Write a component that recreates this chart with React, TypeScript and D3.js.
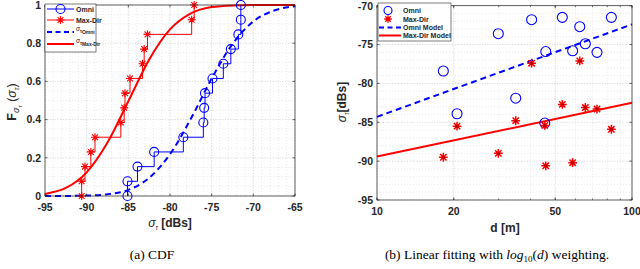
import * as d3 from "d3"

// axis ticks
const cdfXTicks = [-95, -90, -85, -80, -75, -70, -65]
const cdfYTicks = [0, 0.2, 0.4, 0.6, 0.8, 1]
const distTicks = [10, 20, 50, 100]
const delayTicks = [-95, -90, -85, -80, -75, -70]

// measured RMS delay spread per location
const distances = [18.2, 20.6, 29.9, 35.0, 40.4, 45.9, 45.5, 53.3, 58.5, 62.4, 65.6, 72.9, 83.0]
const omniDelay = [-78.4, -83.9, -73.6, -81.9, -71.8, -75.9, -85.1, -71.5, -75.8, -72.7, -74.9, -76.0, -71.5]
const maxDirDelay = [-89.5, -85.5, -89.0, -84.8, -77.4, -90.6, -85.4, -82.7, -90.2, -77.1, -83.1, -83.3, -85.9]

// fitted CDF curves
const fitGrid = [-95, -92.5, -90, -87.5, -85, -82.5, -80, -77.5, -75, -72.5, -70, -67.5, -65]
const omniFitCdf = [0.0, 0.0003, 0.002, 0.009, 0.032, 0.095, 0.219, 0.404, 0.615, 0.796, 0.914, 0.971, 0.993]
const maxDirFitCdf = [0.011, 0.042, 0.124, 0.28, 0.496, 0.714, 0.872, 0.956, 0.989, 0.998, 1.0, 1.0, 1.0]

// linear models in log10(d)
const modelDist = [10, 100]
const omniModel = [-84.3, -72.4]
const maxDirModel = [-89.4, -82.5]

const BLUE = "#0000ff"
const RED = "#ff0000"
const AX = "#262626"
const FONT = "'Liberation Sans', Arial, sans-serif"

const Star = ({ x, y, s = 4, w = 1.1 }: any) => {
  const a = s * 0.72
  return (
    <path
      transform={`translate(${x},${y})`}
      d={`M${-s},0H${s}M0,${-s}V${s}M${-a},${-a}L${a},${a}M${-a},${a}L${a},${-a}`}
      stroke={RED}
      strokeWidth={w}
      fill="none"
    />
  )
}

const Ring = ({ x, y, r = 4.5 }: any) => (
  <circle cx={x} cy={y} r={r} fill="none" stroke={BLUE} strokeWidth={1.1} />
)

function ecdf(values: number[]) {
  const s = [...values].sort(d3.ascending)
  const n = s.length
  return [[s[0], 0], ...s.map((v, i) => [v, (i + 1) / n])] as [number, number][]
}

const CdfChart = () => {
  const x = d3.scaleLinear().domain([-95, -65]).range([45, 295])
  const y = d3.scaleLinear().domain([0, 1]).range([196, 5])
  const stairs = d3.line().x((d: any) => x(d[0])).y((d: any) => y(d[1])).curve(d3.curveStepAfter)
  const smooth = d3.line().x((d: any) => x(d[0])).y((d: any) => y(d[1])).curve(d3.curveMonotoneX)
  const omniPts = ecdf(omniDelay)
  const maxPts = ecdf(maxDirDelay)
  const [x0, x1] = x.range()
  const [y1, y0] = y.range()
  return (
    <g>
      {d3.range(-95, -64.5, 1).map((v) => (
        <line key={"mx" + v} x1={x(v)} x2={x(v)} y1={y0} y2={y1} stroke="#dcdcdc" strokeWidth={0.6} strokeDasharray="1,2" />
      ))}
      {d3.range(0, 1.001, 0.05).map((v) => (
        <line key={"my" + v} x1={x0} x2={x1} y1={y(v)} y2={y(v)} stroke="#dcdcdc" strokeWidth={0.6} strokeDasharray="1,2" />
      ))}
      {cdfXTicks.map((v) => (
        <line key={"gx" + v} x1={x(v)} x2={x(v)} y1={y0} y2={y1} stroke="#cccccc" strokeWidth={0.6} strokeDasharray="1,1.5" />
      ))}
      {cdfYTicks.map((v) => (
        <line key={"gy" + v} x1={x0} x2={x1} y1={y(v)} y2={y(v)} stroke="#cccccc" strokeWidth={0.6} strokeDasharray="1,1.5" />
      ))}

      <path d={smooth(fitGrid.map((v, i) => [v, maxDirFitCdf[i]]) as any) || ""} fill="none" stroke={RED} strokeWidth={2} />
      <path d={smooth(fitGrid.map((v, i) => [v, omniFitCdf[i]]) as any) || ""} fill="none" stroke={BLUE} strokeWidth={2} strokeDasharray="6,4" />
      <path d={stairs(omniPts as any) || ""} fill="none" stroke={BLUE} strokeWidth={1} />
      <path d={stairs(maxPts as any) || ""} fill="none" stroke={RED} strokeWidth={1} />
      {omniPts.map((d, i) => <Ring key={"o" + i} x={x(d[0])} y={y(d[1])} />)}
      {maxPts.map((d, i) => <Star key={"s" + i} x={x(d[0])} y={y(d[1])} />)}

      <rect x={x0} y={y0} width={x1 - x0} height={y1 - y0} fill="none" stroke={AX} strokeWidth={0.7} />
      {cdfXTicks.map((v) => (
        <g key={"tx" + v}>
          <line x1={x(v)} x2={x(v)} y1={y1} y2={y1 - 2.5} stroke={AX} strokeWidth={0.7} />
          <line x1={x(v)} x2={x(v)} y1={y0} y2={y0 + 2.5} stroke={AX} strokeWidth={0.7} />
          <text x={x(v)} y={y1 + 15} textAnchor="middle" fontSize={10.5} fontWeight="bold" fill={AX} fontFamily={FONT}>{v}</text>
        </g>
      ))}
      {cdfYTicks.map((v) => (
        <g key={"ty" + v}>
          <line x1={x0} x2={x0 + 2.5} y1={y(v)} y2={y(v)} stroke={AX} strokeWidth={0.7} />
          <line x1={x1} x2={x1 - 2.5} y1={y(v)} y2={y(v)} stroke={AX} strokeWidth={0.7} />
          <text x={x0 - 4} y={y(v) + 3.8} textAnchor="end" fontSize={10.5} fontWeight="bold" fill={AX} fontFamily={FONT}>{v}</text>
        </g>
      ))}

      <text x={170} y={227} textAnchor="middle" fontSize={12} fontWeight="bold" fill={AX} fontFamily={FONT}>
        <tspan fontStyle="italic" fontWeight="normal">σ</tspan>
        <tspan fontSize={6.5} dy={3} fontStyle="italic" fontWeight="normal">τ</tspan>
        <tspan dy={-3}> [dBs]</tspan>
      </text>
      <text transform="translate(16,102) rotate(-90)" textAnchor="middle" fontSize={12.5} fontWeight="bold" fill={AX} fontFamily={FONT}>
        <tspan>F</tspan>
        <tspan fontSize={9} dy={3} fontStyle="italic" fontWeight="normal">σ</tspan>
        <tspan fontSize={6} dy={2.5} fontStyle="italic" fontWeight="normal">τ</tspan>
        <tspan dy={-5.5} fontWeight="normal"> (</tspan>
        <tspan fontStyle="italic" fontWeight="normal">σ</tspan>
        <tspan fontSize={7} dy={3} fontStyle="italic" fontWeight="normal">τ</tspan>
        <tspan dy={-3} fontWeight="normal">)</tspan>
      </text>

      <g fontFamily={FONT} fontWeight="bold" fontSize={7} fill={AX}>
        <rect x={45} y={4} width={51} height={48} fill="#fff" stroke={AX} strokeWidth={0.6} />
        <line x1={47} x2={74} y1={9} y2={9} stroke={BLUE} strokeWidth={1} />
        <Ring x={60.5} y={9} />
        <text x={76} y={11.5}>Omni</text>
        <line x1={47} x2={74} y1={20} y2={20} stroke={RED} strokeWidth={1} />
        <Star x={60.5} y={20} />
        <text x={76} y={22.5}>Max-Dir</text>
        <line x1={47} x2={74} y1={32} y2={32} stroke={BLUE} strokeWidth={2} strokeDasharray="5,3.5" />
        <text x={76} y={31} fontSize={6.5}>
          <tspan fontStyle="italic" fontWeight="normal">σ</tspan>
          <tspan fontSize={4.5} dy={1.5}>τ</tspan>
          <tspan fontSize={5} dy={1.5}>Omni</tspan>
        </text>
        <line x1={47} x2={74} y1={44} y2={44} stroke={RED} strokeWidth={2} />
        <text x={76} y={43} fontSize={6.5}>
          <tspan fontStyle="italic" fontWeight="normal">σ</tspan>
          <tspan fontSize={4.5} dy={1.5}>τ</tspan>
          <tspan fontSize={5} dy={1.5}>Max-Dir</tspan>
        </text>
      </g>
    </g>
  )
}

const FitChart = () => {
  const x = d3.scaleLog().domain([10, 100]).range([377, 632])
  const y = d3.scaleLinear().domain([-95, -70]).range([200, 5.7])
  const line = d3.line().x((d: any) => x(d[0])).y((d: any) => y(d[1]))
  const [x0, x1] = x.range()
  const [y1, y0] = y.range()
  const minorX = d3.range(10, 101, 10)
  return (
    <g>
      {minorX.map((v) => (
        <line key={"mx" + v} x1={x(v)} x2={x(v)} y1={y0} y2={y1} stroke="#dcdcdc" strokeWidth={0.6} strokeDasharray="1,2" />
      ))}
      {d3.range(-95, -69.5, 1).map((v) => (
        <line key={"my" + v} x1={x0} x2={x1} y1={y(v)} y2={y(v)} stroke="#dcdcdc" strokeWidth={0.6} strokeDasharray="1,2" />
      ))}
      {distTicks.map((v) => (
        <line key={"gx" + v} x1={x(v)} x2={x(v)} y1={y0} y2={y1} stroke="#cccccc" strokeWidth={0.6} strokeDasharray="1,1.5" />
      ))}
      {delayTicks.map((v) => (
        <line key={"gy" + v} x1={x0} x2={x1} y1={y(v)} y2={y(v)} stroke="#cccccc" strokeWidth={0.6} strokeDasharray="1,1.5" />
      ))}

      <path d={line(modelDist.map((d, i) => [d, omniModel[i]]) as any) || ""} fill="none" stroke={BLUE} strokeWidth={2} strokeDasharray="6,4" />
      <path d={line(modelDist.map((d, i) => [d, maxDirModel[i]]) as any) || ""} fill="none" stroke={RED} strokeWidth={2} />
      {distances.map((d, i) => <Ring key={"o" + i} x={x(d)} y={y(omniDelay[i])} r={5} />)}
      {distances.map((d, i) => (
        <g key={"s" + i}>
          <Star x={x(d)} y={y(maxDirDelay[i])} s={4.4} w={1.5} />
          <circle cx={x(d)} cy={y(maxDirDelay[i])} r={1.5} fill="#b00000" />
        </g>
      ))}

      <rect x={x0} y={y0} width={x1 - x0} height={y1 - y0} fill="none" stroke={AX} strokeWidth={0.7} />
      {minorX.map((v) => (
        <g key={"mt" + v}>
          <line x1={x(v)} x2={x(v)} y1={y1} y2={y1 - 1.5} stroke={AX} strokeWidth={0.6} />
          <line x1={x(v)} x2={x(v)} y1={y0} y2={y0 + 1.5} stroke={AX} strokeWidth={0.6} />
        </g>
      ))}
      {distTicks.map((v) => (
        <g key={"tx" + v}>
          <line x1={x(v)} x2={x(v)} y1={y1} y2={y1 - 2.5} stroke={AX} strokeWidth={0.7} />
          <line x1={x(v)} x2={x(v)} y1={y0} y2={y0 + 2.5} stroke={AX} strokeWidth={0.7} />
          <text x={x(v)} y={y1 + 15} textAnchor="middle" fontSize={10.5} fontWeight="bold" fill={AX} fontFamily={FONT}>{v}</text>
        </g>
      ))}
      {delayTicks.map((v) => (
        <g key={"ty" + v}>
          <line x1={x0} x2={x0 + 2.5} y1={y(v)} y2={y(v)} stroke={AX} strokeWidth={0.7} />
          <line x1={x1} x2={x1 - 2.5} y1={y(v)} y2={y(v)} stroke={AX} strokeWidth={0.7} />
          <text x={x0 - 4} y={y(v) + 3.8} textAnchor="end" fontSize={10.5} fontWeight="bold" fill={AX} fontFamily={FONT}>{v}</text>
        </g>
      ))}

      <text x={505} y={232} textAnchor="middle" fontSize={12} fontWeight="bold" fill={AX} fontFamily={FONT}>d [m]</text>
      <text transform="translate(346,102) rotate(-90)" textAnchor="middle" fontSize={12} fontWeight="bold" fill={AX} fontFamily={FONT}>
        <tspan fontStyle="italic" fontWeight="normal">σ</tspan>
        <tspan fontSize={6.5} dy={3} fontStyle="italic" fontWeight="normal">τ</tspan>
        <tspan dy={-3}>[dBs]</tspan>
      </text>

      <g fontFamily={FONT} fontWeight="bold" fontSize={7} fill={AX}>
        <rect x={378} y={3} width={73} height={38} fill="#fff" stroke={AX} strokeWidth={0.6} />
        <Ring x={388} y={10.5} r={4} />
        <text x={403} y={13}>Omni</text>
        <Star x={388} y={19} s={3.8} w={1.3} />
        <text x={403} y={21.5}>Max-Dir</text>
        <line x1={379} x2={401} y1={27.5} y2={27.5} stroke={BLUE} strokeWidth={2} strokeDasharray="5,3.5" />
        <text x={403} y={30}>Omni Model</text>
        <line x1={379} x2={401} y1={35.5} y2={35.5} stroke={RED} strokeWidth={2} />
        <text x={403} y={38}>Max-Dir Model</text>
      </g>
    </g>
  )
}

export default function App() {
  return (
    <svg width={640} height={269} style={{ position: "absolute", left: 0, top: 0, background: "#fff" }}>
      <CdfChart />
      <FitChart />
      <g fontFamily="'Liberation Serif', 'Times New Roman', serif" fontSize={13.5} fill="#000">
        <text x={152} y={259} textAnchor="middle">(a) CDF</text>
        <text x={497} y={259} textAnchor="middle">
          (b) Linear fitting with <tspan fontStyle="italic">log</tspan>
          <tspan fontSize={9} dy={2.5}>10</tspan>
          <tspan dy={-2.5}>(</tspan>
          <tspan fontStyle="italic">d</tspan>) weighting.
        </text>
      </g>
    </svg>
  )
}
